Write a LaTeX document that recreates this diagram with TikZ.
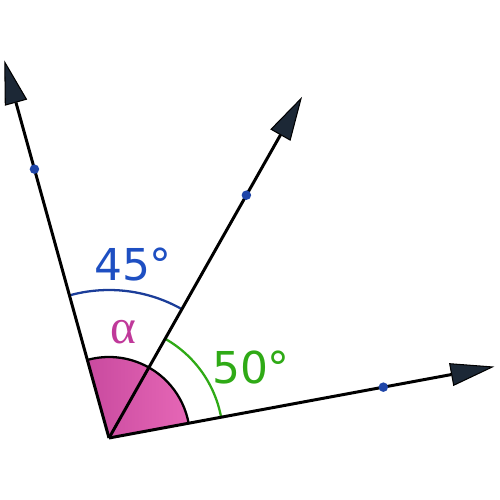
\documentclass[tikz,border=0pt]{standalone}
\usepackage{fontspec}
\setmainfont{DejaVu Sans}
\newfontfamily\greekfont{Liberation Serif}
\usepackage{xcolor}
\usetikzlibrary{arrows.meta,calc}
\definecolor{headcol}{HTML}{1C2836}
\definecolor{dotcol}{HTML}{1F45A8}
\definecolor{bluearc}{HTML}{1B3D99}
\definecolor{bluetxt}{HTML}{1E4FC2}
\definecolor{greenarc}{HTML}{2FAA16}
\definecolor{pinkdark}{HTML}{C94A9F}
\definecolor{pinklight}{HTML}{E667B6}
\definecolor{pinktxt}{HTML}{C0399A}

\begin{document}
\begin{tikzpicture}[
  ray/.style={line width=1.7pt,
              -{Triangle[length=8.8mm,width=4.6mm,fill=headcol,line width=0.6pt]}},
  dot/.style={circle,fill=dotcol,inner sep=0pt,minimum size=1.9mm},
  anglearc/.style={line width=1.3pt},
  lbl/.style={font=\fontsize{25}{30}\selectfont,inner sep=0pt}
]
\useasboundingbox (0,0) rectangle (10,10);
\coordinate (O) at (2.18,1.24);
\coordinate (A) at ($(O)+(10.5:7.84)$);
\coordinate (B) at ($(O)+(60.5:7.84)$);
\coordinate (C) at ($(O)+(105.5:7.84)$);

% alpha sector
\shade[left color=pinkdark,right color=pinklight]
  (O) -- ++(10.5:1.62) arc[start angle=10.5,end angle=105.5,radius=1.62] -- cycle;
\draw[anglearc] ($(O)+(10.5:1.62)$) arc[start angle=10.5,end angle=105.5,radius=1.62];

% measured angles
\draw[anglearc,greenarc] ($(O)+(10.5:2.28)$) arc[start angle=10.5,end angle=60.5,radius=2.28];
\draw[anglearc,bluearc] ($(O)+(60.5:2.96)$) arc[start angle=60.5,end angle=105.5,radius=2.96];

% rays
\draw[ray] (O) -- (A);
\draw[ray] (O) -- (B);
\draw[ray] (O) -- (C);

\node[dot] (pa) at ($(O)+(10.5:5.58)$) {};
\node[dot] (pb) at ($(O)+(60.5:5.58)$) {};
\node[dot] (pc) at ($(O)+(105.5:5.58)$) {};

\node[lbl,text=bluetxt] (l45) at (2.66,4.70) {45°};
\node[lbl,text=greenarc] (l50) at (5.02,2.64) {50°};
\node[lbl,text=pinktxt,font=\greekfont\fontsize{28}{30}\selectfont] (la) at (2.46,3.36) {α};
\end{tikzpicture}
\end{document}
